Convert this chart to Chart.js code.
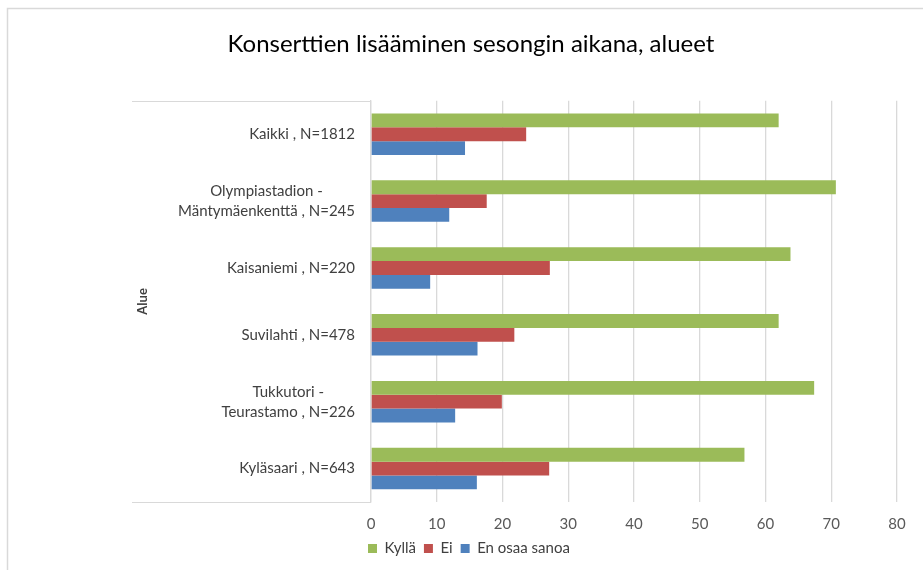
<!DOCTYPE html>
<html lang="fi">
<head>
<meta charset="utf-8">
<title>Konserttien lisääminen sesongin aikana, alueet</title>
<script src="https://cdn.jsdelivr.net/npm/chart.js@4/dist/chart.umd.min.js"></script>
<style>
  html, body { margin: 0; padding: 0; background: #ffffff; }
  #wrap { position: relative; width: 923px; height: 570px; }
</style>
</head>
<body>
<div id="wrap"><canvas id="chart" width="923" height="570"></canvas></div>
<script>
// Areas (top to bottom) and answer shares, %
const areas = [
  ['Kaikki , N=1812'],
  ['Olympiastadion -', 'Mäntymäenkenttä , N=245'],
  ['Kaisaniemi , N=220'],
  ['Suvilahti , N=478'],
  ['Tukkutori -', 'Teurastamo , N=226'],
  ['Kyläsaari , N=643']
];
const kylla = [62.0, 70.7, 63.8, 62.0, 67.4, 56.8];
const ei = [23.6, 17.6, 27.2, 21.8, 19.9, 27.1];
const enOsaa = [14.3, 11.9, 9.0, 16.2, 12.8, 16.1];
const xTicks = [0, 10, 20, 30, 40, 50, 60, 70, 80];

const FONT = 'Lato, "Open Sans", "DejaVu Sans", sans-serif';
const LINE = '#d9d9d9';

// Outer frame and the bracket lines of the category axis
const framePlugin = {
  id: 'frame',
  beforeDraw(chart) {
    const ctx = chart.ctx;
    const a = chart.chartArea;
    const x0 = a.left - 239;
    ctx.save();
    ctx.strokeStyle = LINE;
    ctx.lineWidth = 1.5;
    ctx.beginPath();
    ctx.moveTo(7.5, chart.height + 5);
    ctx.lineTo(7.5, 8.5);
    ctx.lineTo(chart.width + 5, 8.5);
    ctx.stroke();
    ctx.lineWidth = 1;
    ctx.beginPath();
    ctx.moveTo(x0, Math.round(a.top) + 0.5);
    ctx.lineTo(a.left, Math.round(a.top) + 0.5);
    ctx.moveTo(x0, Math.round(a.bottom) + 0.5);
    ctx.lineTo(a.left, Math.round(a.bottom) + 0.5);
    ctx.stroke();
    ctx.restore();
  }
};

// Category labels: block right-aligned to the axis, lines centred within the block
const categoryLabels = {
  id: 'categoryLabels',
  afterDraw(chart) {
    const ctx = chart.ctx;
    const scale = chart.scales.y;
    const right = chart.chartArea.left - 16;
    const size = 15, lh = 20;
    ctx.save();
    ctx.font = size + 'px ' + FONT;
    ctx.fillStyle = '#404040';
    ctx.textAlign = 'center';
    ctx.textBaseline = 'middle';
    scale.ticks.forEach((t, i) => {
      const lines = [].concat(chart.data.labels[i]);
      const w = Math.max(...lines.map(s => ctx.measureText(s).width));
      const cx = right - w / 2;
      const cy = scale.getPixelForTick(i);
      lines.forEach((s, k) => {
        ctx.fillText(s, cx, cy + (k - (lines.length - 1) / 2) * lh);
      });
    });
    ctx.restore();
  }
};

// Legend starts at the left edge of the plot area
const legendShift = {
  id: 'legendShift',
  afterLayout(chart) {
    const lg = chart.legend;
    if (lg) {
      const d = chart.chartArea.left - 11 - lg.left;
      lg.left += d;
      lg.right += d;
    }
  }
};

new Chart(document.getElementById('chart'), {
  type: 'bar',
  data: {
    labels: areas,
    datasets: [
      { label: 'Kyllä', data: kylla, backgroundColor: '#9bbb59' },
      { label: 'Ei', data: ei, backgroundColor: '#c0504d' },
      { label: 'En osaa sanoa', data: enOsaa, backgroundColor: '#4f81bd' }
    ]
  },
  options: {
    indexAxis: 'y',
    responsive: false,
    animation: false,
    datasets: { bar: { barPercentage: 1, categoryPercentage: 0.62 } },
    layout: { padding: { left: 45, right: 26, top: 8, bottom: 4 } },
    scales: {
      x: {
        min: 0, max: 80,
        afterBuildTicks(s) { s.ticks = xTicks.map(v => ({ value: v })); },
        grid: { color: LINE, lineWidth: 1.3, drawTicks: false },
        border: { display: false },
        ticks: { color: '#595959', font: { family: FONT, size: 15 }, padding: 13 },
        afterFit(s) { s.height = 31; }
      },
      y: {
        grid: { display: false },
        border: { display: true, color: LINE, width: 1.3 },
        ticks: { display: false },
        title: {
          display: true, text: 'Alue', color: '#404040',
          font: { family: FONT, size: 13, weight: 'bold' },
          padding: { top: 90, bottom: 0 }
        },
        afterFit(s) { s.width = 326; }
      }
    },
    plugins: {
      title: {
        display: true,
        text: 'Konserttien lisääminen sesongin aikana, alueet',
        color: '#000000',
        font: { family: FONT, size: 24, weight: 'normal' },
        padding: { top: 22, bottom: 42 }
      },
      legend: {
        position: 'bottom',
        align: 'start',
        fullSize: false,
        labels: {
          color: '#404040',
          font: { family: FONT, size: 15 },
          boxWidth: 9, boxHeight: 9,
          padding: 8
        }
      },
      tooltip: { enabled: false }
    }
  },
  plugins: [framePlugin, categoryLabels, legendShift]
});
</script>
</body>
</html>
